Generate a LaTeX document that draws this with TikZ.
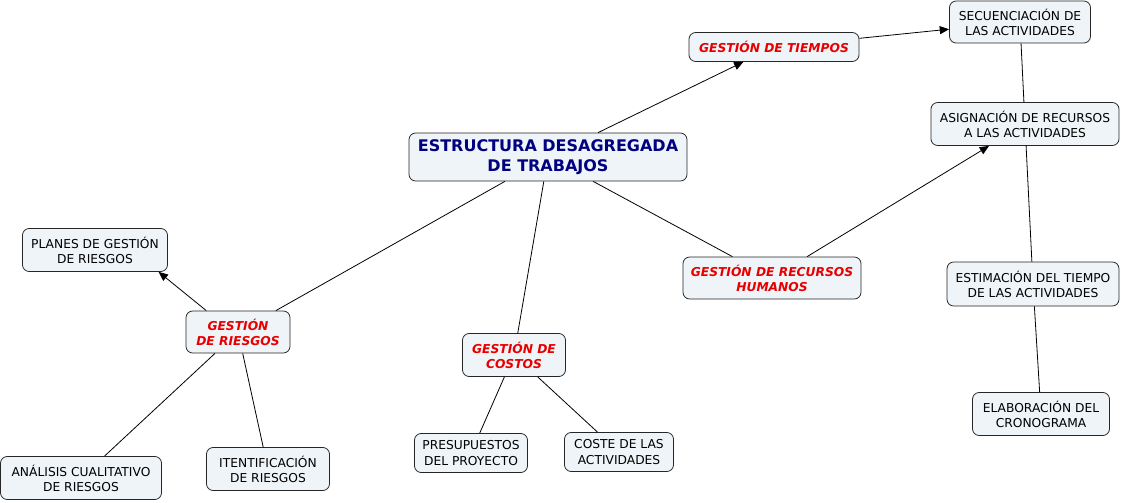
\documentclass[tikz,border=0pt]{standalone}
\usepackage{fontspec}
\setmainfont{DejaVu Sans}
\usetikzlibrary{arrows.meta}
\definecolor{relleno}{RGB}{238,244,247}
\definecolor{azultitulo}{RGB}{0,0,128}
\definecolor{rojogestion}{RGB}{232,0,0}

\begin{document}
\begin{tikzpicture}[
  x=0.75pt, y=-0.75pt,
  concepto/.style={draw=black!85, fill=relleno, rounded corners=5pt, line width=0.6pt,
    align=center, inner sep=1pt, font=\fontsize{9.2}{11.3}\selectfont},
  gestion/.style={concepto, text=rojogestion, font=\fontsize{9.2}{11.3}\selectfont\bfseries\itshape},
  titulo/.style={concepto, text=azultitulo, font=\fontsize{12}{15}\selectfont\bfseries},
  enlace/.style={draw=black, line width=0.6pt},
  flecha/.style={enlace, -{Triangle[length=7pt,width=6pt]}}
]
\useasboundingbox (0,0) rectangle (1122,503);

% ---- nodo central -----------------------------------------------------
\node[titulo, minimum width={278*0.75pt}, minimum height={48*0.75pt}] (estructura)
  at (548,157) {ESTRUCTURA DESAGREGADA\\ DE TRABAJOS};

%==============================================================
% areas de gestion
%==============================================================
% nombre / centro x / centro y / ancho / alto / texto
\foreach \nombre/\cx/\cy/\ancho/\alto/\texto in {%
  tiempos/774/47/170/29/{GESTIÓN DE TIEMPOS},
  recursos/772/278/178/42/{GESTIÓN DE RECURSOS\\ HUMANOS},
  riesgos/238/332/104/42/{GESTIÓN\\ DE RIESGOS},
  costos/514/355/103/43/{GESTIÓN DE\\ COSTOS}} {
  \node[gestion, minimum width={\ancho*0.75pt}, minimum height={\alto*0.75pt}]
    (\nombre) at (\cx,\cy) {\texto};
}

%==============================================================
% actividades
%==============================================================
\foreach \nombre/\cx/\cy/\ancho/\alto/\texto in {%
  secuencia/1020/22/141/42/{SECUENCIACIÓN DE\\ LAS ACTIVIDADES},
  asignacion/1025/124/188/43/{ASIGNACIÓN DE RECURSOS\\ A LAS ACTIVIDADES},
  estimacion/1033/284/172/44/{ESTIMACIÓN DEL TIEMPO\\ DE LAS ACTIVIDADES},
  elaboracion/1041/414/137/43/{ELABORACIÓN DEL\\ CRONOGRAMA},
  planes/95/250/145/43/{PLANES DE GESTIÓN\\ DE RIESGOS},
  analisis/81/478/161/43/{ANÁLISIS CUALITATIVO\\ DE RIESGOS},
  identificacion/268/469/123/43/{ITENTIFICACIÓN\\ DE RIESGOS},
  presupuestos/471/453/113/39/{PRESUPUESTOS\\ DEL PROYECTO},
  coste/619/452/109/39/{COSTE DE LAS\\ ACTIVIDADES}} {
  \node[concepto, minimum width={\ancho*0.75pt}, minimum height={\alto*0.75pt}]
    (\nombre) at (\cx,\cy) {\texto};
}

% ---- enlaces ----------------------------------------------------------
\draw[flecha] (estructura) -- (tiempos);
\draw[flecha] (tiempos) -- (secuencia);
\draw[enlace] (secuencia) -- (asignacion);
\draw[enlace] (asignacion) -- (estimacion);
\draw[enlace] (estimacion) -- (elaboracion);
\draw[enlace] (estructura) -- (recursos);
\draw[flecha] (recursos) -- (asignacion);
\draw[enlace] (estructura) -- (riesgos);
\draw[flecha] (riesgos.146) -- (planes.-19);
\draw[enlace] (riesgos) -- (analisis);
\draw[enlace] (riesgos) -- (identificacion);
\draw[enlace] (estructura) -- (costos);
\draw[enlace] (costos) -- (presupuestos);
\draw[enlace] (costos) -- (coste);

\end{tikzpicture}
\end{document}
